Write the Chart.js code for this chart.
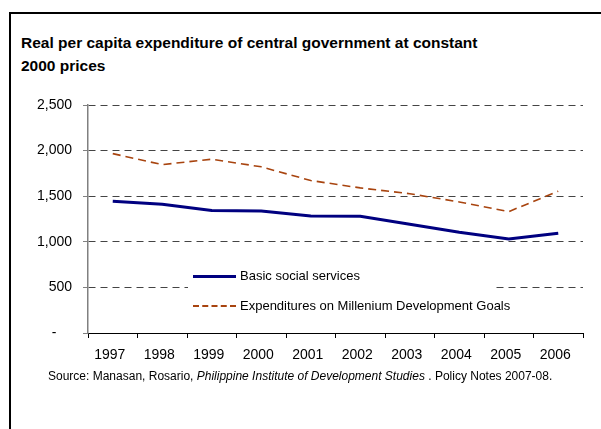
<!DOCTYPE html>
<html>
<head>
<meta charset="utf-8">
<script src="https://cdn.jsdelivr.net/npm/chart.js@4/dist/chart.umd.min.js"></script>
<style>
  html, body { margin: 0; padding: 0; background: #fff; overflow: hidden; }
  #wrap { position: relative; width: 601px; height: 429px; overflow: hidden; font-family: "Liberation Sans", Arial, sans-serif; }
  #frame { position: absolute; left: 9px; top: 12px; width: 700px; height: 600px; border-left: 2px solid #000; border-top: 2px solid #000; }
  #title { position: absolute; left: 21px; top: 31px; font-size: 15.5px; line-height: 23px; font-weight: bold; color: #000; white-space: nowrap; }
  #cv { position: absolute; left: 0; top: 0; }
  #legend { position: absolute; left: 188px; top: 258px; width: 305px; height: 64px; background: #fff; font-size: 13px; color: #000; }
  .item { position: absolute; left: 0; height: 16px; white-space: nowrap; }
  .sample { position: absolute; left: 5px; width: 43px; }
  .ltext { position: absolute; left: 52px; top: 0; line-height: 16px; }
  #source { position: absolute; left: 48px; top: 368px; font-size: 12px; line-height: 16px; color: #000; white-space: nowrap; }
</style>
</head>
<body>
<div id="wrap">
  <div id="frame"></div>
  <div id="title">Real per capita expenditure of central government at constant<br>2000 prices</div>
  <canvas id="cv" width="601" height="429"></canvas>
  <div id="legend">
    <div class="item" style="top:10px;"><div class="sample" style="top:7px;height:0;border-top:3px solid #000080;"></div><div class="ltext">Basic social services</div></div>
    <div class="item" style="top:40px;"><div class="sample" style="top:7px;height:0;border-top:2px dashed #a8440f;"></div><div class="ltext">Expenditures on Millenium Development Goals</div></div>
  </div>
  <div id="source">Source: Manasan, Rosario, <i>Philippine Institute of Development Studies</i> . Policy Notes 2007-08.</div>
</div>
<script>
const years = ["1997","1998","1999","2000","2001","2002","2003","2004","2005","2006"];
const basicSocialServices = [1445, 1412, 1342, 1338, 1282, 1281, 1193, 1105, 1030, 1094];
const mdgExpenditures = [1967, 1846, 1906, 1822, 1672, 1591, 1527, 1437, 1331, 1555];
const yTicks = [0, 500, 1000, 1500, 2000, 2500];

const fontFam = '"Liberation Sans", Arial, sans-serif';

new Chart(document.getElementById('cv'), {
  type: 'line',
  data: {
    labels: years,
    datasets: [
      { label: 'Basic social services', data: basicSocialServices, borderColor: '#000080', borderWidth: 3, pointRadius: 0, tension: 0, fill: false },
      { label: 'Expenditures on Millenium Development Goals', data: mdgExpenditures, borderColor: '#a8440f', borderWidth: 1.6, borderDash: [8, 5], pointRadius: 0, tension: 0, fill: false }
    ]
  },
  options: {
    responsive: false,
    animation: false,
    layout: { padding: { left: 0, right: 18, top: 105, bottom: 0 } },
    plugins: { legend: { display: false }, title: { display: false }, tooltip: { enabled: false } },
    scales: {
      x: {
        offset: true,
        afterFit: (s) => { s.height = 96; },
        grid: { offset: true, drawOnChartArea: false, drawTicks: true, tickLength: 5, tickColor: '#000', tickWidth: 1 },
        border: { display: true, color: '#000', width: 1 },
        ticks: { font: { family: fontFam, size: 14 }, color: '#000', padding: 9, labelOffset: -3, maxRotation: 0, autoSkip: false }
      },
      y: {
        min: 0, max: 2500,
        afterFit: (s) => { s.width = 88; },
        afterBuildTicks: (s) => { s.ticks = yTicks.map(v => ({ value: v })); },
        grid: { color: '#444', lineWidth: 1, drawTicks: true, tickLength: 5, tickColor: '#808080', tickBorderDash: [0, 0], tickWidth: 1 },
        border: { display: true, color: '#808080', width: 1.5, dash: [7, 5] },
        ticks: {
          font: { family: fontFam, size: 14 }, color: '#000', padding: 11,
          callback: (v) => v === 0 ? '-    ' : v.toLocaleString('en-US')
        }
      }
    }
  }
});
</script>
</body>
</html>
